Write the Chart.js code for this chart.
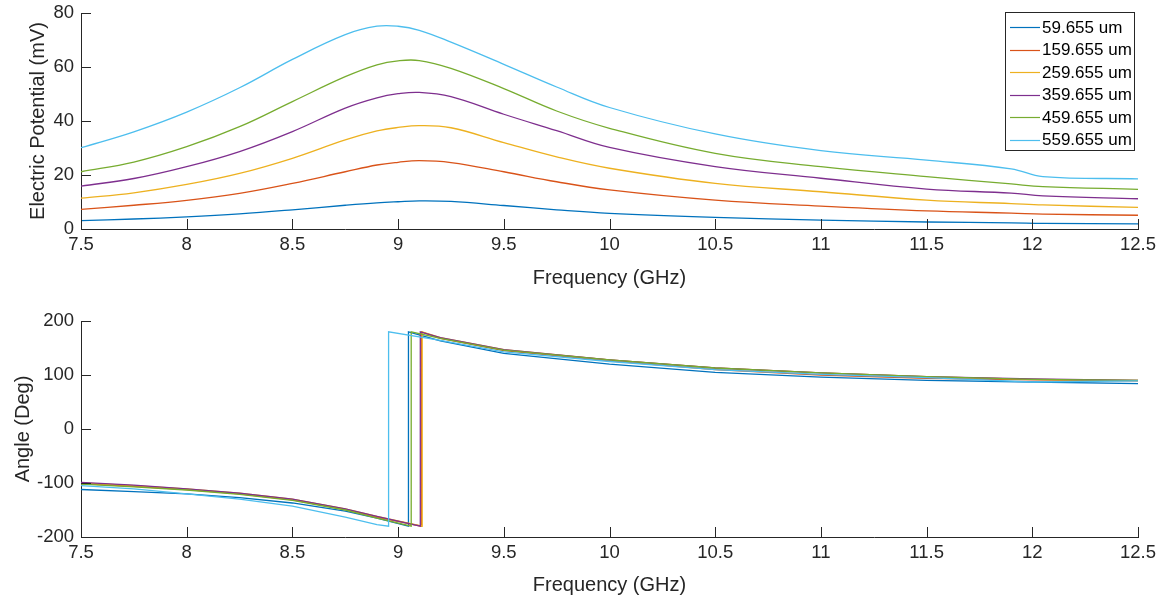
<!DOCTYPE html>
<html>
<head>
<meta charset="utf-8">
<script src="https://cdn.jsdelivr.net/npm/chart.js@4"></script>
<style>
  html, body { margin: 0; padding: 0; background: #fff; }
  .wrap { position: absolute; left: 0; width: 1167px; }
  #topWrap { top: 0; height: 300px; }
  #botWrap { top: 300px; height: 304px; }
</style>
</head>
<body>
<div class="wrap" id="topWrap"><canvas id="chartMag" width="1167" height="300"></canvas></div>
<div class="wrap" id="botWrap"><canvas id="chartAngle" width="1167" height="304"></canvas></div>
<script>
const $ = (id) => document.getElementById(id);

// 距離ごとの系列ラベル
const SERIES_LABELS = ['59.655 um', '159.655 um', '259.655 um', '359.655 um', '459.655 um', '559.655 um'];
const SERIES_COLORS = ['#0072BD', '#D95319', '#EDB120', '#7E2F8E', '#77AC30', '#4DBEEE'];

const X_TICKS = [7.5, 8, 8.5, 9, 9.5, 10, 10.5, 11, 11.5, 12, 12.5];
const Y_TICKS_MAG = [0, 20, 40, 60, 80];
const Y_TICKS_ANGLE = [-200, -100, 0, 100, 200];

// 振幅 (mV)
const freqMag = [7.5, 7.75, 8, 8.25, 8.5, 8.75, 8.9, 9.0, 9.1, 9.25, 9.5, 9.75, 10, 10.5, 11, 11.5, 11.9, 12.05, 12.5];
const mag59  = [3.1, 3.7, 4.5, 5.6, 7.1, 8.8, 9.7, 10.1, 10.4, 10.2, 8.7, 7.1, 5.8, 4.3, 3.3, 2.6, 2.3, 2.1, 1.9];
const mag159 = [7.3, 8.8, 10.6, 13.2, 16.9, 21.2, 23.7, 24.7, 25.3, 24.6, 21.2, 17.5, 14.5, 10.7, 8.5, 6.7, 5.9, 5.5, 5.1];
const mag259 = [11.4, 13.4, 16.5, 20.6, 26.2, 33.0, 36.3, 37.6, 38.3, 37.5, 32.0, 26.7, 22.5, 16.9, 13.8, 10.7, 9.4, 8.9, 8.0];
const mag359 = [15.9, 18.7, 23.1, 28.7, 36.1, 44.8, 48.6, 50.1, 50.6, 49.0, 42.5, 36.4, 30.2, 23.1, 18.8, 14.8, 13.3, 12.3, 11.2];
const mag459 = [21.2, 24.8, 30.5, 37.9, 47.2, 56.4, 60.8, 62.3, 62.4, 59.5, 52.0, 43.7, 37.3, 28.0, 23.1, 19.4, 16.7, 15.7, 14.7];
const mag559 = [30.1, 36.0, 43.3, 52.3, 62.8, 72.0, 75.1, 75.1, 73.6, 69.2, 61.0, 52.6, 45.0, 35.2, 29.0, 25.5, 22.3, 19.4, 18.6];

// 位相 (Deg): 跳び前 / 跳び後
const freqAngleLeft = [7.5, 7.75, 8, 8.25, 8.5, 8.75, 8.9];
const freqAngleRight = [9.2, 9.5, 10, 10.5, 11, 11.5, 12, 12.5];
const jumpFreq = [9.049, 9.11, 9.114, 9.105, 9.062, 8.955];
const angLeft59  = [-112, -116, -120, -127, -137, -152, -165];
const angLeft159 = [-101, -106, -112, -120, -131, -149, -163];
const angLeft259 = [-100, -105, -111, -119, -130, -148, -162];
const angLeft359 = [-99, -104, -111, -119, -130, -148, -162];
const angLeft459 = [-102, -107, -113, -121, -132, -150, -165];
const angLeft559 = [-105, -111, -120, -130, -143, -163, -177];
const angRight59  = [163, 140, 120, 105, 96, 90, 87, 84];
const angRight159 = [168, 145, 126, 110, 100, 94, 91, 89];
const angRight259 = [169, 147, 128, 113, 104, 97, 92, 90];
const angRight359 = [169, 147, 128, 113, 104, 97, 93, 90];
const angRight459 = [168, 146, 128, 113, 104, 97, 92, 90];
const angRight559 = [164, 143, 125, 110, 101, 95, 87, 89];

const MAG_SERIES = [mag59, mag159, mag259, mag359, mag459, mag559];
const ANG_LEFT = [angLeft59, angLeft159, angLeft259, angLeft359, angLeft459, angLeft559];
const ANG_RIGHT = [angRight59, angRight159, angRight259, angRight359, angRight459, angRight559];

const AXIS_COLOR = '#262626';
const FONT = '"Liberation Sans", Arial, Helvetica, sans-serif';
const TICK_LEN = 10;

// MATLAB 風の内向きティック
const inwardTicks = {
  id: 'inwardTicks',
  afterDraw(chart) {
    const { ctx, chartArea, scales } = chart;
    ctx.save();
    ctx.strokeStyle = AXIS_COLOR;
    ctx.lineWidth = 1;
    ctx.beginPath();
    for (const t of scales.x.ticks) {
      const px = Math.round(scales.x.getPixelForValue(t.value)) + 0.5;
      ctx.moveTo(px, chartArea.bottom);
      ctx.lineTo(px, chartArea.bottom - TICK_LEN);
    }
    for (const t of scales.y.ticks) {
      const py = Math.round(scales.y.getPixelForValue(t.value)) + 0.5;
      ctx.moveTo(chartArea.left, py);
      ctx.lineTo(chartArea.left + TICK_LEN, py);
    }
    ctx.stroke();
    ctx.restore();
  },
};

const boxLegend = {
  id: 'boxLegend',
  afterDraw(chart) {
    const { ctx, chartArea } = chart;
    const right = chartArea.right - 4;
    const left = right - 129;
    const top = chartArea.top - 1;
    const rowH = 22.5;
    const sets = chart.data.datasets;
    ctx.save();
    ctx.fillStyle = '#fff';
    ctx.fillRect(left, top, right - left, 138);
    ctx.strokeStyle = AXIS_COLOR;
    ctx.lineWidth = 1;
    ctx.strokeRect(left + 0.5, top + 0.5, right - left, 138);
    ctx.font = '17px ' + FONT;
    ctx.textBaseline = 'middle';
    sets.forEach((ds, i) => {
      const y = top + 15 + i * rowH;
      ctx.strokeStyle = ds.borderColor;
      ctx.lineWidth = 1.2;
      ctx.beginPath();
      ctx.moveTo(left + 5, Math.round(y) + 0.5);
      ctx.lineTo(left + 35, Math.round(y) + 0.5);
      ctx.stroke();
      ctx.fillStyle = '#000';
      ctx.fillText(ds.label, left + 37, y + 1);
    });
    ctx.restore();
  },
};

function xScale(boxHeight, titlePad) {
  return {
    type: 'linear',
    min: 7.5,
    max: 12.5,
    afterBuildTicks: (s) => { s.ticks = X_TICKS.map((v) => ({ value: v })); },
    afterFit: (s) => { s.height = boxHeight; },
    grid: { display: true, drawOnChartArea: false, drawTicks: false },
    border: { display: true, color: AXIS_COLOR, width: 1 },
    ticks: {
      color: AXIS_COLOR, padding: 5, maxRotation: 0,
      font: { family: FONT, size: 18.5 },
      callback: (v) => String(v),
    },
    title: {
      display: true,
      text: 'Frequency (GHz)',
      color: AXIS_COLOR,
      font: { family: FONT, size: 20 },
      padding: { top: titlePad, bottom: titlePad },
    },
  };
}

function yScale(min, max, ticks, label, titlePad) {
  return {
    type: 'linear',
    min,
    max,
    afterBuildTicks: (s) => { s.ticks = ticks.map((v) => ({ value: v })); },
    afterFit: (s) => {
      s.width = 81;
      // ラベル分の余白は layout.padding 側で持つ
      s.paddingTop = 0;
      s.paddingBottom = 0;
    },
    grid: { display: true, drawOnChartArea: false, drawTicks: false },
    border: { display: true, color: AXIS_COLOR, width: 1 },
    ticks: {
      color: AXIS_COLOR, padding: 7,
      font: { family: FONT, size: 18.5 },
      callback: (v) => String(v),
    },
    title: {
      display: true,
      text: label,
      color: AXIS_COLOR,
      font: { family: FONT, size: 20 },
      padding: { top: titlePad, bottom: titlePad },
    },
  };
}

function renderMagnitude() {
  const datasets = MAG_SERIES.map((vals, i) => ({
    label: SERIES_LABELS[i],
    data: freqMag.map((f, k) => ({ x: f, y: vals[k] })),
    borderColor: SERIES_COLORS[i],
    backgroundColor: SERIES_COLORS[i],
    borderWidth: 1.3,
    pointRadius: 0,
    fill: false,
    tension: 0.4,
    order: MAG_SERIES.length - i,
  }));
  new Chart($('chartMag').getContext('2d'), {
    type: 'line',
    data: { datasets },
    options: {
      responsive: false,
      animation: false,
      events: [],
      layout: { padding: { top: 13, right: 29, left: 0, bottom: 0 } },
      plugins: { legend: { display: false }, tooltip: { enabled: false } },
      scales: {
        x: xScale(71, 9.6),
        y: yScale(0, 80, Y_TICKS_MAG, 'Electric Potential (mV)', 26),
      },
    },
    plugins: [inwardTicks, boxLegend],
  });
}

function angleData(i) {
  const pts = freqAngleLeft.map((f, k) => ({ x: f, y: ANG_LEFT[i][k] }));
  pts.push({ x: jumpFreq[i], y: -180 }, { x: jumpFreq[i], y: 180 });
  freqAngleRight.forEach((f, k) => pts.push({ x: f, y: ANG_RIGHT[i][k] }));
  return pts;
}

function renderAngle() {
  const datasets = SERIES_LABELS.map((label, i) => ({
    label,
    data: angleData(i),
    borderColor: SERIES_COLORS[i],
    backgroundColor: SERIES_COLORS[i],
    borderWidth: 1.3,
    pointRadius: 0,
    fill: false,
    tension: 0,
    order: SERIES_LABELS.length - i,
  }));
  new Chart($('chartAngle').getContext('2d'), {
    type: 'line',
    data: { datasets },
    options: {
      responsive: false,
      animation: false,
      events: [],
      layout: { padding: { top: 21, right: 29, left: 0, bottom: 0 } },
      plugins: { legend: { display: false }, tooltip: { enabled: false } },
      scales: {
        x: xScale(67, 6.6),
        y: yScale(-200, 200, Y_TICKS_ANGLE, 'Angle (Deg)', 11),
      },
    },
    plugins: [inwardTicks],
  });
}

renderMagnitude();
renderAngle();
</script>
</body>
</html>
